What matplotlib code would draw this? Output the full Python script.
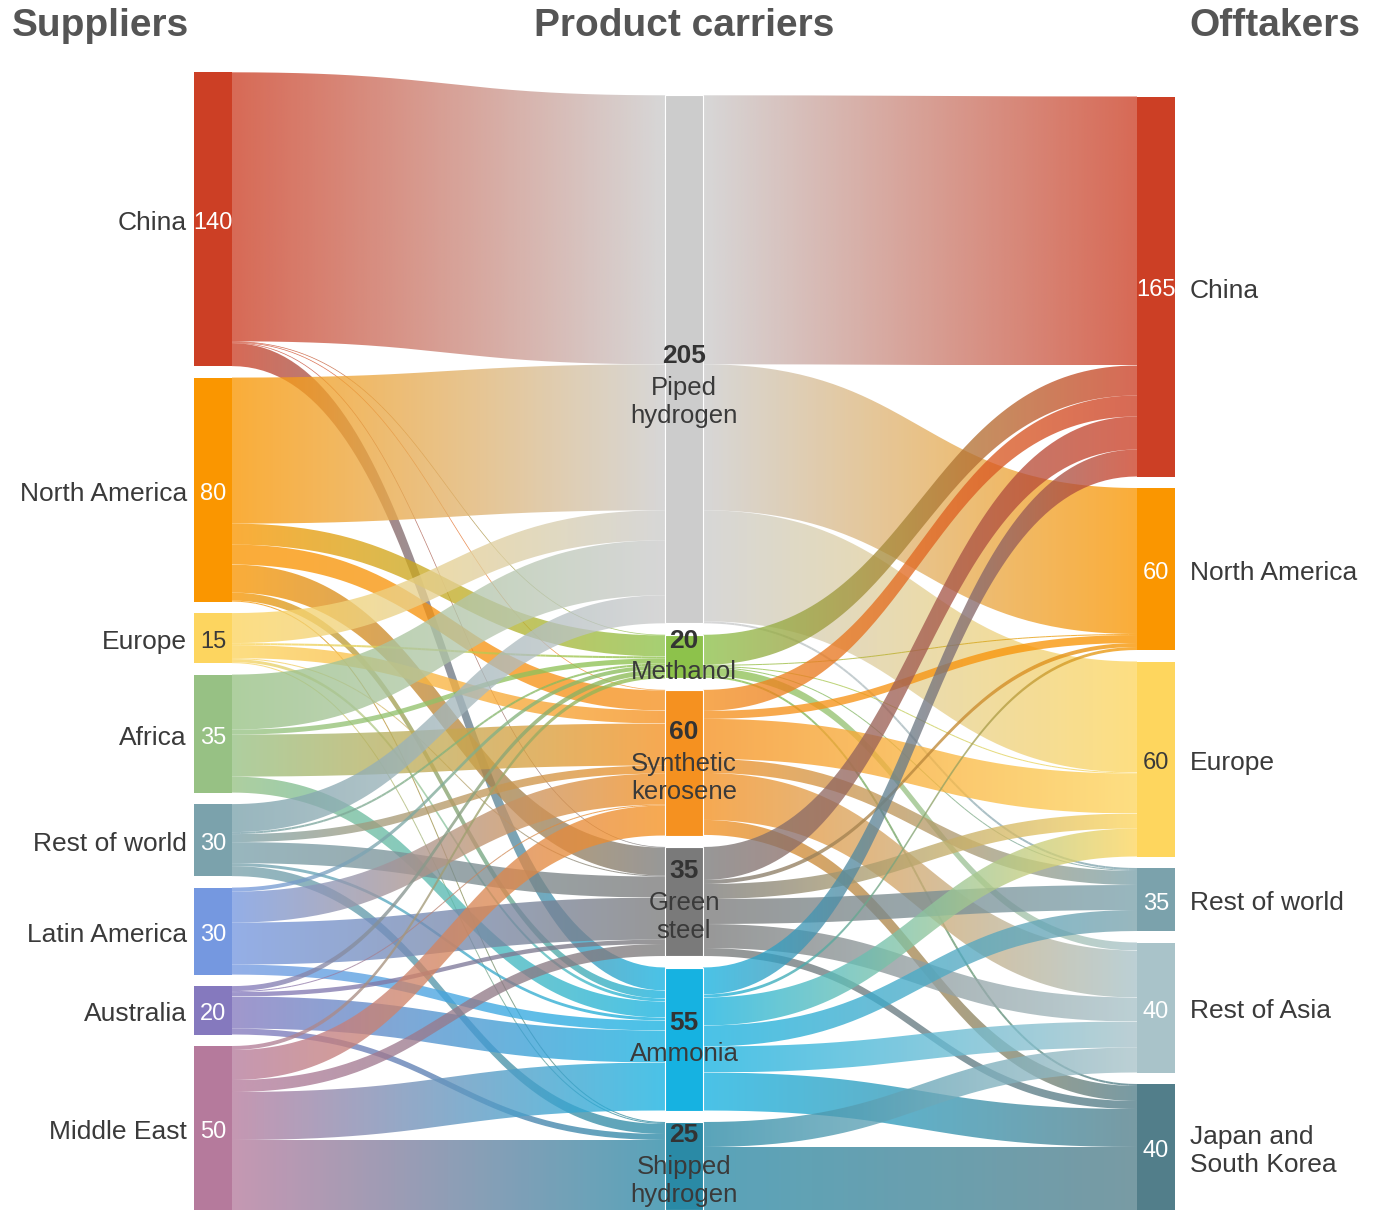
import matplotlib.pyplot as plt
import numpy as np
from matplotlib.path import Path
from matplotlib.patches import PathPatch, Rectangle
from matplotlib.collections import LineCollection
from matplotlib.colors import to_rgb

plt.rcParams['font.family'] = ['Liberation Sans', 'DejaVu Sans']

# Nodes and the numbers printed on them
suppliers = ['China', 'North America', 'Europe', 'Africa', 'Rest of world',
             'Latin America', 'Australia', 'Middle East']
supplier_labels = [140, 80, 15, 35, 30, 30, 20, 50]
carriers = ['Piped\nhydrogen', 'Methanol', 'Synthetic\nkerosene', 'Green\nsteel',
            'Ammonia', 'Shipped\nhydrogen']
carrier_labels = [205, 20, 60, 35, 55, 25]
offtakers = ['China', 'North America', 'Europe', 'Rest of world', 'Rest of Asia',
             'Japan and\nSouth Korea']
offtaker_labels = [165, 60, 60, 35, 40, 40]

# flow widths
# supplier -> carrier (cols: piped, methanol, kerosene, steel, ammonia, shipped)
supply_flows = [
    [269, 0.6, 0.6, 0.6, 23, 0],     # China
    [146, 21, 20, 28, 8, 1],         # North America
    [30, 2, 13, 1, 3, 1],            # Europe
    [55, 5, 42, 0, 16, 0],           # Africa
    [28, 2, 8, 21, 3, 10],           # Rest of world
    [0, 4, 31, 42, 10, 0],           # Latin America
    [0, 5, 1, 4.4, 32, 6],           # Australia
    [0, 4, 30, 12, 48, 70],          # Middle East
]
# carrier -> offtaker (cols: china, n. america, europe, rest of world, rest of asia, japan/korea)
offtake_flows = [
    [269, 146, 111, 2, 0, 0],        # Piped hydrogen
    [30, 1, 1, 1, 8, 2],             # Methanol
    [21, 8, 40, 14, 47, 15],         # Synthetic kerosene
    [33, 4, 15, 25, 24, 8],          # Green steel
    [27, 3, 28, 21, 26, 38],         # Ammonia
    [0, 0, 0, 0, 25, 63],            # Shipped hydrogen
]

left_colors = ['#CC3F25', '#FA9600', '#FDD55F', '#97C184', '#7BA2AC',
               '#7598E0', '#8579BE', '#B57A9C']
mid_colors = ['#CCCCCC', '#8DC24B', '#F59120', '#7A7A7A', '#16B2E1', '#2A8AA6']
right_colors = ['#CC3F25', '#FA9600', '#FED65E', '#7BA2AC', '#A9C3C9', '#527E8A']

W, H = 1384, 1210
col_x = [194, 665, 1137]
node_w = 38
gap = 11.5
link_alpha = 0.78
dy = 4  # side labels sit a little below the node centre

sf = np.array(supply_flows, dtype=float)
of = np.array(offtake_flows, dtype=float)

left_h = sf.sum(axis=1)
mid_h = np.maximum(sf.sum(axis=0), of.sum(axis=1))
right_h = of.sum(axis=0)


def stack(heights):
    tops = []
    y = H - (heights.sum() + gap * (len(heights) - 1))
    for h in heights:
        tops.append(y)
        y += h + gap
    return np.array(tops)


left_top = stack(left_h)
mid_top = stack(mid_h)
right_top = stack(right_h)

fig = plt.figure(figsize=(13.84, 12.10), dpi=100)
ax = fig.add_axes([0, 0, 1, 1])
ax.set_axis_off()


def curve(x0, y0, x1, y1, n=80):
    t = np.linspace(0, 1, n)
    xm = (x0 + x1) / 2
    x = (1 - t) ** 3 * x0 + 3 * (1 - t) ** 2 * t * xm + 3 * (1 - t) * t ** 2 * xm + t ** 3 * x1
    y = (1 - t) ** 3 * y0 + 3 * (1 - t) ** 2 * t * y0 + 3 * (1 - t) * t ** 2 * y1 + t ** 3 * y1
    return x, y


def draw_link(x0, y0, x1, y1, w, c0, c1):
    c0, c1 = np.array(to_rgb(c0)), np.array(to_rgb(c1))
    if w < 2.5:
        xs, ys = curve(x0, y0 + w / 2, x1, y1 + w / 2)
        pts = np.column_stack([xs, ys])
        segs = np.stack([pts[:-1], pts[1:]], axis=1)
        t = np.linspace(0, 1, len(segs))[:, None]
        cols = np.hstack([(1 - t) * c0 + t * c1, np.full((len(segs), 1), link_alpha)])
        ax.add_collection(LineCollection(segs, colors=cols, linewidths=max(w, 0.7) * 0.72,
                                         capstyle='butt', zorder=1))
        return
    xt, yt = curve(x0, y0, x1, y1)
    xb, yb = curve(x0, y0 + w, x1, y1 + w)
    verts = np.vstack([np.column_stack([xt, yt]), np.column_stack([xb[::-1], yb[::-1]])])
    patch = PathPatch(Path(verts, closed=False), transform=ax.transData,
                      facecolor='none', edgecolor='none')
    t = np.linspace(0, 1, 256)[:, None]
    rgb = (1 - t) * c0 + t * c1
    img = np.hstack([rgb, np.full((256, 1), link_alpha)])[None, :, :]
    ylo, yhi = min(yt.min(), yb.min()), max(yt.max(), yb.max())
    im = ax.imshow(img, extent=(x0, x1, ylo, yhi), aspect='auto',
                   interpolation='bilinear', origin='lower', zorder=1)
    im.set_clip_path(patch)


def draw_flows(flows, src_top, dst_top, xa, xb, src_cols, dst_cols):
    n_src, n_dst = flows.shape
    out_off = src_top.copy()
    for i in range(n_src):
        for j in range(n_dst):
            w = flows[i, j]
            if w <= 0:
                continue
            # incoming position at target: flows from earlier sources come first
            y1 = dst_top[j] + flows[:i, j].sum()
            draw_link(xa, out_off[i], xb, y1, w, src_cols[i], dst_cols[j])
            out_off[i] += w


draw_flows(sf, left_top, mid_top, col_x[0] + node_w, col_x[1], left_colors, mid_colors)
draw_flows(of, mid_top, right_top, col_x[1] + node_w, col_x[2], mid_colors, right_colors)

txt = '#3a3a3a'
name_fs = 19
val_fs = 17

# left nodes
for i, name in enumerate(suppliers):
    ax.add_patch(Rectangle((col_x[0], left_top[i]), node_w, left_h[i],
                           facecolor=left_colors[i], edgecolor='none', zorder=3))
    cy = left_top[i] + left_h[i] / 2 + dy
    ax.text(col_x[0] - 7, cy, name, ha='right', va='center', fontsize=name_fs, color=txt)
    vc = txt if name == 'Europe' else 'white'
    ax.text(col_x[0] + node_w / 2, cy, str(supplier_labels[i]), ha='center', va='center',
            fontsize=val_fs, color=vc, zorder=4)

# middle nodes
label_shift = {0: 28}
for i, name in enumerate(carriers):
    ax.add_patch(Rectangle((col_x[1], mid_top[i]), node_w, mid_h[i],
                           facecolor=mid_colors[i], edgecolor='white', linewidth=0.8, zorder=3))
    cy = mid_top[i] + mid_h[i] / 2 + label_shift.get(i, 0)
    lines = name.split('\n')
    if len(lines) == 2:
        ys = [cy - 31, cy + 1, cy + 29]
    else:
        ys = [cy - 16, cy + 15]
    cx = col_x[1] + node_w / 2
    ax.text(cx, ys[0], str(carrier_labels[i]), ha='center', va='center',
            fontsize=19, fontweight='bold', color='#333333', zorder=4)
    for y, ln in zip(ys[1:], lines):
        ax.text(cx, y, ln, ha='center', va='center', fontsize=18.5, color=txt, zorder=4)

# right nodes
for i, name in enumerate(offtakers):
    ax.add_patch(Rectangle((col_x[2], right_top[i]), node_w, right_h[i],
                           facecolor=right_colors[i], edgecolor='none', zorder=3))
    cy = right_top[i] + right_h[i] / 2 + dy
    ax.text(col_x[2] + node_w + 15, cy, name, ha='left', va='center',
            fontsize=name_fs, color=txt, linespacing=1.2)
    vc = txt if name == 'Europe' else 'white'
    ax.text(col_x[2] + node_w / 2, cy, str(offtaker_labels[i]), ha='center', va='center',
            fontsize=val_fs, color=vc, zorder=4)

# column headings
head = dict(fontsize=28, fontweight='bold', color='#555555', va='center')
ax.text(12, 26, 'Suppliers', ha='left', **head)
ax.text(684, 26, 'Product carriers', ha='center', **head)
ax.text(1360, 26, 'Offtakers', ha='right', **head)

ax.set_xlim(0, W)
ax.set_ylim(H, 0)
fig.savefig('out.png', dpi=100)
